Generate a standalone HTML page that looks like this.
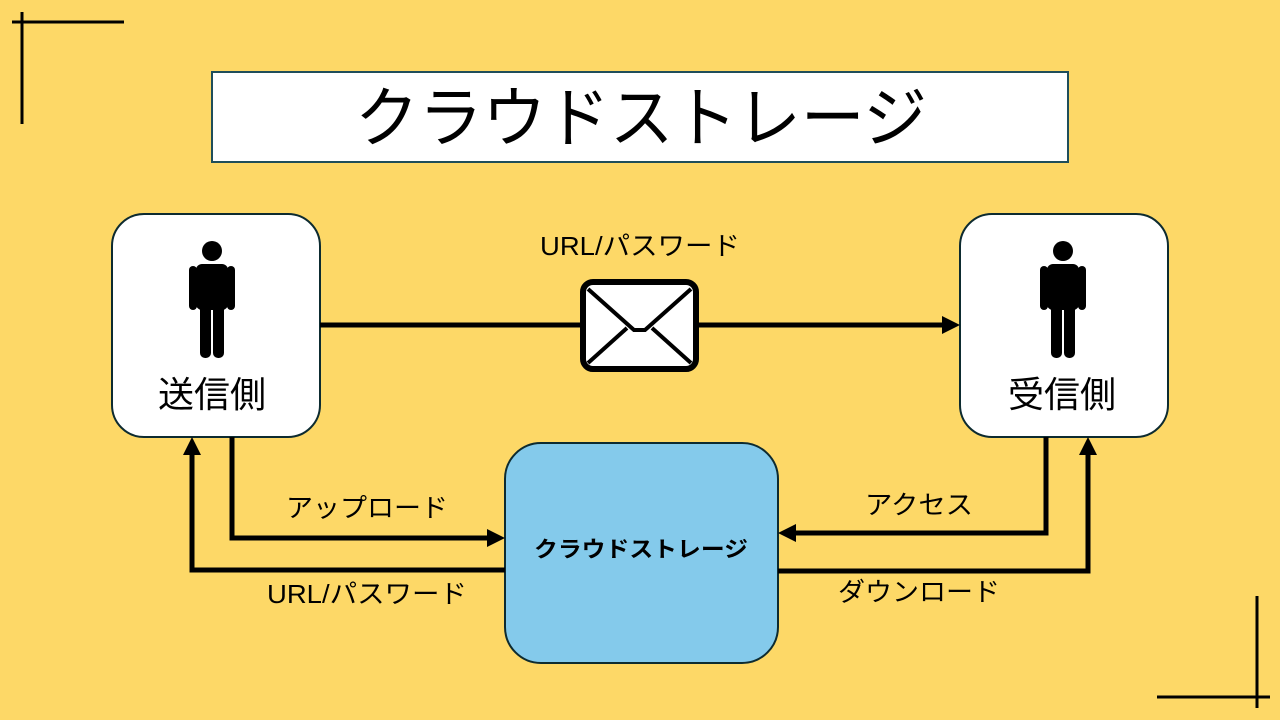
<!DOCTYPE html>
<html><head><meta charset="utf-8"><style>
html,body{margin:0;padding:0;background:#FDD867;}
svg{display:block;}
text{font-family:"Liberation Sans","Noto Sans CJK JP",sans-serif;}
</style></head><body>
<svg width="1280" height="720" viewBox="0 0 1280 720" xmlns="http://www.w3.org/2000/svg">
<rect width="1280" height="720" fill="#FDD867"/>
<g stroke="#000" stroke-width="3">
<line x1="12" y1="22" x2="124" y2="22"/><line x1="22" y1="12" x2="22" y2="124"/>
<line x1="1157" y1="697" x2="1270" y2="697"/><line x1="1257" y1="596" x2="1257" y2="708"/>
</g>
<rect x="212" y="72" width="856" height="90" fill="#fff" stroke="#1f4e5a" stroke-width="2"/>
<text x="641" y="141" font-size="66" text-anchor="middle" fill="#000" textLength="572" lengthAdjust="spacingAndGlyphs">クラウドストレージ</text>
<rect x="112" y="214" width="208" height="223" rx="32" fill="#fff" stroke="#0d2b30" stroke-width="2"/>
<rect x="960" y="214" width="208" height="223" rx="32" fill="#fff" stroke="#0d2b30" stroke-width="2"/>
<rect x="505" y="443" width="273" height="220" rx="36" fill="#84CAEB" stroke="#0d2b30" stroke-width="2"/>
<g id="p" fill="#000">
<circle cx="212" cy="251" r="10"/>
<rect x="196" y="264" width="32" height="46" rx="6"/>
<rect x="189" y="266" width="8" height="44" rx="4"/>
<rect x="227" y="266" width="8" height="44" rx="4"/>
<rect x="200" y="300" width="11" height="58" rx="5"/>
<rect x="213" y="300" width="11" height="58" rx="5"/>
</g>
<use href="#p" x="851" y="0"/>
<text x="212" y="407" font-size="36" text-anchor="middle">送信側</text>
<text x="1062" y="407" font-size="36" text-anchor="middle">受信側</text>
<text x="641" y="557" font-size="22" font-weight="bold" text-anchor="middle" textLength="214" lengthAdjust="spacingAndGlyphs">クラウドストレージ</text>
<g stroke="#000" stroke-width="5" fill="none">
<line x1="320" y1="325" x2="582" y2="325"/>
<line x1="697" y1="325" x2="946" y2="325"/>
<polyline points="232,437 232,538 490,538"/>
<polyline points="505,570 192,570 192,452"/>
<polyline points="1046,437 1046,533 793,533"/>
<polyline points="778,571 1088,571 1088,452"/>
</g>
<g fill="#000">
<polygon points="960,325 942,316 942,334"/>
<polygon points="505,538 487,529 487,547"/>
<polygon points="192,437 183,455 201,455"/>
<polygon points="778,533 796,524 796,542"/>
<polygon points="1088,437 1079,455 1097,455"/>
</g>
<rect x="583" y="282" width="113" height="87" rx="10" fill="#fff" stroke="#000" stroke-width="6"/>
<polyline points="588,289 634,330 645,330 691,289" fill="none" stroke="#000" stroke-width="4"/>
<line x1="588" y1="363" x2="627" y2="328" stroke="#000" stroke-width="4"/>
<line x1="691" y1="363" x2="652" y2="328" stroke="#000" stroke-width="4"/>
<g font-size="26" fill="#000">
<text x="640" y="255" text-anchor="middle" textLength="200" lengthAdjust="spacingAndGlyphs">URL/パスワード</text>
<text x="367" y="517" text-anchor="middle" textLength="162" lengthAdjust="spacingAndGlyphs">アップロード</text>
<text x="367" y="603" text-anchor="middle" textLength="200" lengthAdjust="spacingAndGlyphs">URL/パスワード</text>
<text x="919" y="514" text-anchor="middle" textLength="108" lengthAdjust="spacingAndGlyphs">アクセス</text>
<text x="919" y="601" text-anchor="middle" textLength="162" lengthAdjust="spacingAndGlyphs">ダウンロード</text>
</g>
</svg>
</body></html>
